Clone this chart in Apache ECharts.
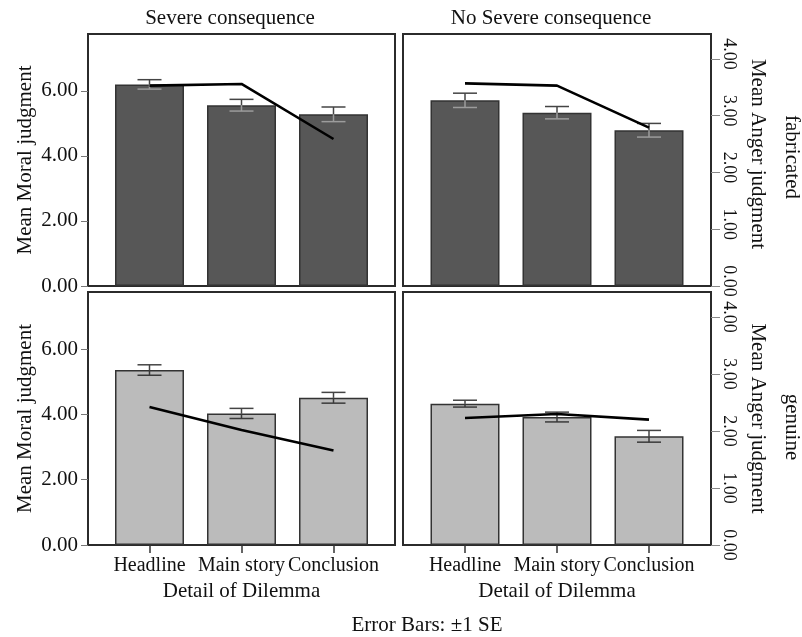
<!DOCTYPE html>
<html>
<head>
<meta charset="utf-8">
<script src="https://cdn.jsdelivr.net/npm/echarts@6/dist/echarts.min.js"></script>
<style>
html,body{margin:0;padding:0;background:#fff;}
#chart{width:802px;height:637px;}
</style>
</head>
<body>
<div id="chart"></div>
<script>
// ---------- data ----------
const categories = ['Headline', 'Main story', 'Conclusion'];
const moralTicks = [0, 2, 4, 6];
const angerTicks = [0, 1, 2, 3, 4];

const fabSevereMoral = [6.20, 5.56, 5.28];
const fabSevereSE = [0.145, 0.18, 0.225];
const fabSevereAnger = [3.53, 3.56, 2.59];

const fabNoSevereMoral = [5.71, 5.33, 4.79];
const fabNoSevereSE = [0.22, 0.19, 0.21];
const fabNoSevereAnger = [3.57, 3.53, 2.79];

const genSevereMoral = [5.36, 4.03, 4.51];
const genSevereSE = [0.16, 0.155, 0.165];
const genSevereAnger = [2.42, 2.02, 1.66];

const genNoSevereMoral = [4.33, 3.92, 3.33];
const genNoSevereSE = [0.105, 0.15, 0.18];
const genNoSevereAnger = [2.23, 2.30, 2.20];

const colTitles = ['Severe consequence', 'No Severe consequence'];
const rowTitles = ['fabricated', 'genuine'];

// ---------- layout / style ----------
const FONT = "'Liberation Serif', 'Times New Roman', serif";
const MORAL_MAX = 7.75, ANGER_MAX = 4.44;
const BAND = 92;
const panelsLayout = [
  {left: 88, top: 34, width: 307, height: 252},
  {left: 403, top: 34, width: 308, height: 252},
  {left: 88, top: 292, width: 307, height: 253},
  {left: 403, top: 292, width: 308, height: 253}
];
const panelData = [
  {moral: fabSevereMoral, se: fabSevereSE, anger: fabSevereAnger, color: '#575757', lower: '#9c9c9c'},
  {moral: fabNoSevereMoral, se: fabNoSevereSE, anger: fabNoSevereAnger, color: '#575757', lower: '#9c9c9c'},
  {moral: genSevereMoral, se: genSevereSE, anger: genSevereAnger, color: '#bbbbbb', lower: '#3a3a3a'},
  {moral: genNoSevereMoral, se: genNoSevereSE, anger: genNoSevereAnger, color: '#bbbbbb', lower: '#3a3a3a'}
];

const grids = [], xAxes = [], yAxes = [], series = [];
panelsLayout.forEach((pl) => {
  const dataW = BAND * 3;
  const pad = (pl.width - dataW) / 2;
  grids.push({left: pl.left + pad, top: pl.top, width: dataW, height: pl.height, show: false});
});
panelsLayout.forEach((pl) => {
  grids.push({left: pl.left, top: pl.top, width: pl.width, height: pl.height, show: true,
    borderColor: '#2b2b2b', borderWidth: 2, backgroundColor: 'transparent', z: 0});
});

panelsLayout.forEach((pl, p) => {
  const pad = (pl.width - BAND * 3) / 2;
  const isBottom = p >= 2, isLeft = p % 2 === 0;
  xAxes.push({
    type: 'category', gridIndex: p, data: categories, boundaryGap: true,
    axisLine: {show: false},
    axisTick: {show: isBottom, alignWithLabel: true, length: 8, lineStyle: {color: '#333', width: 1.5}},
    axisLabel: {show: isBottom, interval: 0, hideOverlap: false, margin: 11, color: '#111', fontFamily: FONT, fontSize: 20},
    name: isBottom ? 'Detail of Dilemma' : '', nameLocation: 'middle', nameGap: 36,
    nameTextStyle: {color: '#111', fontFamily: FONT, fontSize: 21}
  });
  yAxes.push({
    type: 'value', gridIndex: p, position: 'left', min: 0, max: MORAL_MAX, offset: pad,
    show: isLeft, splitLine: {show: false}, axisLine: {show: false},
    axisTick: {show: true, length: 7, customValues: moralTicks, lineStyle: {color: '#777', width: 1}},
    axisLabel: {customValues: moralTicks, margin: 10, color: '#111', fontFamily: FONT, fontSize: 21,
      formatter: v => v.toFixed(2)},
    name: 'Mean Moral judgment', nameLocation: 'middle', nameGap: 52,
    nameTextStyle: {color: '#111', fontFamily: FONT, fontSize: 21}
  });
  yAxes.push({
    type: 'value', gridIndex: p, position: 'right', min: 0, max: ANGER_MAX, offset: pad,
    show: !isLeft, splitLine: {show: false}, axisLine: {show: false},
    axisTick: {show: true, length: 9, customValues: angerTicks, lineStyle: {color: '#888', width: 1}},
    axisLabel: {customValues: angerTicks, rotate: -90, margin: 9, color: '#111', fontFamily: FONT, fontSize: 18,
      padding: p === 1 ? [0, 10, 0, 0] : 0, formatter: v => v.toFixed(2)},
    name: 'Mean Anger judgment', nameLocation: 'middle', nameGap: 36, nameRotate: -90,
    nameTextStyle: {color: '#111', fontFamily: FONT, fontSize: 21, padding: p === 1 ? [0, 12, 0, 0] : 0}
  });

  const d = panelData[p];
  series.push({
    type: 'bar', xAxisIndex: p, yAxisIndex: 2 * p, data: d.moral, barWidth: '75%',
    itemStyle: {color: d.color, borderColor: '#333', borderWidth: 1.5}, z: 2, silent: true
  });
  const lowerColor = d.lower;
  series.push({
    type: 'custom', xAxisIndex: p, yAxisIndex: 2 * p, z: 3, silent: true,
    data: d.moral.map((m, i) => [i, m, d.se[i]]),
    renderItem: (params, api) => {
      const i = api.value(0), m = api.value(1), s = api.value(2);
      const hi = api.coord([i, m + s]), mid = api.coord([i, m]), lo = api.coord([i, m - s]);
      const hw = 12;
      const dark = {stroke: '#444', lineWidth: 1.5};
      const light = {stroke: lowerColor, lineWidth: 1.5};
      return {type: 'group', children: [
        {type: 'line', shape: {x1: hi[0], y1: hi[1], x2: mid[0], y2: mid[1]}, style: dark},
        {type: 'line', shape: {x1: mid[0], y1: mid[1], x2: lo[0], y2: lo[1]}, style: light},
        {type: 'line', shape: {x1: hi[0] - hw, y1: hi[1], x2: hi[0] + hw, y2: hi[1]}, style: dark},
        {type: 'line', shape: {x1: lo[0] - hw, y1: lo[1], x2: lo[0] + hw, y2: lo[1]}, style: light}
      ]};
    }
  });
  series.push({
    type: 'line', xAxisIndex: p, yAxisIndex: 2 * p + 1, data: d.anger, symbol: 'none',
    lineStyle: {color: '#000', width: 2.6}, z: 4, silent: true
  });
});

const textStyle = {fill: '#111', font: "21px 'Liberation Serif', 'Times New Roman', serif",
  textAlign: 'center', textVerticalAlign: 'middle'};
const graphic = [
  {type: 'text', x: 230, y: 18, style: Object.assign({}, textStyle, {text: colTitles[0]})},
  {type: 'text', x: 551, y: 18, style: Object.assign({}, textStyle, {text: colTitles[1]})},
  {type: 'text', x: 792, y: 157, rotation: -Math.PI / 2, style: Object.assign({}, textStyle, {text: rowTitles[0]})},
  {type: 'text', x: 792, y: 427, rotation: -Math.PI / 2, style: Object.assign({}, textStyle, {text: rowTitles[1]})},
  {type: 'text', x: 427, y: 625, style: Object.assign({}, textStyle, {text: 'Error Bars: \u00b11 SE'})}
];

const chart = echarts.init(document.getElementById('chart'), null, {renderer: 'canvas'});
chart.setOption({
  animation: false,
  backgroundColor: '#fff',
  grid: grids, xAxis: xAxes, yAxis: yAxes, series: series, graphic: graphic
});
</script>
</body>
</html>
